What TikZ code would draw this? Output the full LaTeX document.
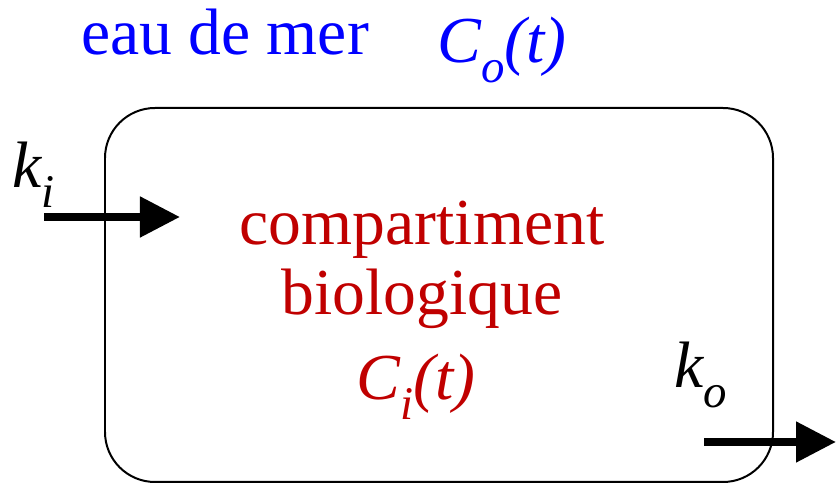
\documentclass[tikz,border=0pt]{standalone}
\usepackage{fontspec}
\setmainfont{Liberation Serif}
\usepackage{xcolor}
\usepackage{tikz}
\usetikzlibrary{arrows.meta}

\definecolor{seablue}{RGB}{0,0,255}
\definecolor{biored}{RGB}{192,0,0}
\newcommand{\lowidx}[1]{\raisebox{-0.3em}{\fontsize{40}{44}\selectfont #1}}

\begin{document}
\begin{tikzpicture}[x=0.03cm, y=0.03cm,
    bigtext/.style={font=\fontsize{56}{62}\selectfont, inner sep=0pt, anchor=base},
    flux/.style={-{Triangle[length=1.2cm, width=1.17cm]}, line width=0.24cm}]
    \useasboundingbox (0,0) rectangle (836,485);

    % compartment box
    \draw[line width=1.7pt, rounded corners=1.5cm] (105,3) rectangle (773,377);

    % sea water
    \node[bigtext, seablue] (seawater) at (225,430) {eau de mer};
    \node[bigtext, seablue] (cout) at (502,422) {\itshape C\lowidx{o}(t)};

    % compartment labels
    \node[bigtext, biored] (comp) at (422,240) {compartiment};
    \node[bigtext, biored] (bio) at (422,170) {biologique};
    \node[bigtext, biored] (cin) at (416,85) {\itshape C\lowidx{i}(t)};

    % rates
    \node[bigtext, anchor=base west] (kin) at (12,297) {\itshape k\lowidx{i}};
    \node[bigtext, anchor=base west] (kout) at (674,97) {\itshape k\lowidx{o}};
    \coordinate (in-start) at (44,268);
    \coordinate (in-end) at (180,268);
    \coordinate (out-start) at (704,43);
    \coordinate (out-end) at (836,43);
    \draw[flux] (in-start) -- (in-end);
    \draw[flux] (out-start) -- (out-end);
\end{tikzpicture}
\end{document}
